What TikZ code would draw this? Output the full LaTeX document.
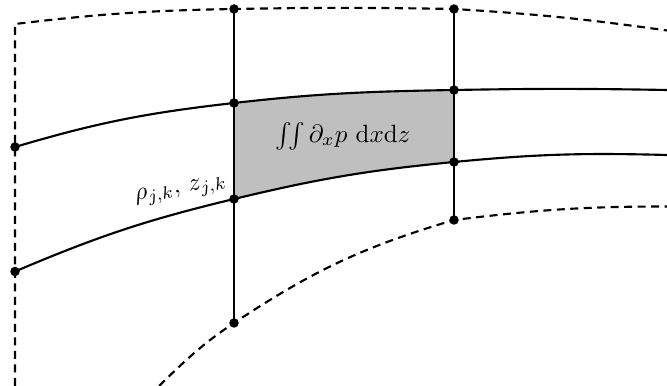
\documentclass[tikz,border=0pt]{standalone}
\usepackage{amsmath}
\begin{document}
\begin{tikzpicture}[x=0.4pt,y=0.4pt,
  curve/.style={line width=0.85pt},
  dashcurve/.style={line width=0.85pt,dash pattern=on 3.2pt off 2.2pt},
  vline/.style={line width=0.85pt},
  dot/.style={circle,fill=black,inner sep=0pt,minimum size=3.8pt},
  lbl/.style={inner sep=0pt}]
\useasboundingbox (0,0) rectangle (667,386);
% points
\coordinate (T0) at (15,362);
\coordinate (T1) at (234,377);
\coordinate (T2) at (454,377);
\coordinate (T3) at (667,355.5);
\coordinate (A0) at (15,239);
\coordinate (A1) at (234,283);
\coordinate (A2) at (454,296);
\coordinate (A3) at (667,296);
\coordinate (B0) at (15,114.5);
\coordinate (B1) at (234,187);
\coordinate (B2) at (454,224);
\coordinate (B3) at (667,231);
\coordinate (C0) at (159,0);
\coordinate (C1) at (234,63);
\coordinate (C2) at (454,166);
\coordinate (C3) at (667,179.5);
\coordinate (L0) at (15,0);
% shaded cell
\fill[gray!50] (A1) to[out=6.5,in=181] (A2) -- (B2) to[out=185.5,in=13.5] (B1) -- cycle;
% dashed boundaries
\draw[dashcurve] (L0) -- (T0) to[out=6.8,in=181] (T1) to[out=1,in=179] (T2) to[out=-3.5,in=172] (T3);
\draw[dashcurve] (C0) to[out=44,in=213.5] (C1) to[out=33.5,in=196.5] (C2) to[out=7,in=180] (C3);
% solid curves
\draw[curve] (A0) to[out=16.5,in=186.5] (A1) to[out=6.5,in=181] (A2) to[out=1,in=179] (A3);
\draw[curve] (B0) to[out=23,in=193.5] (B1) to[out=13.5,in=185.5] (B2) to[out=5.5,in=178.5] (B3);
% verticals
\draw[vline] (T1) -- (C1);
\draw[vline] (T2) -- (C2);
% dots
\foreach \p in {T1,T2,A0,A1,A2,B0,B1,B2,C1,C2}
  \node[dot] at (\p) {};
% labels
\node[lbl] (int) at (343,250) {$\iint \partial_x p\ \mathrm{d}x\mathrm{d}z$};
\node[lbl,rotate=10] (rz) at (181,195) {$\rho_{j,k},\, z_{j,k}$};
\end{tikzpicture}
\end{document}
